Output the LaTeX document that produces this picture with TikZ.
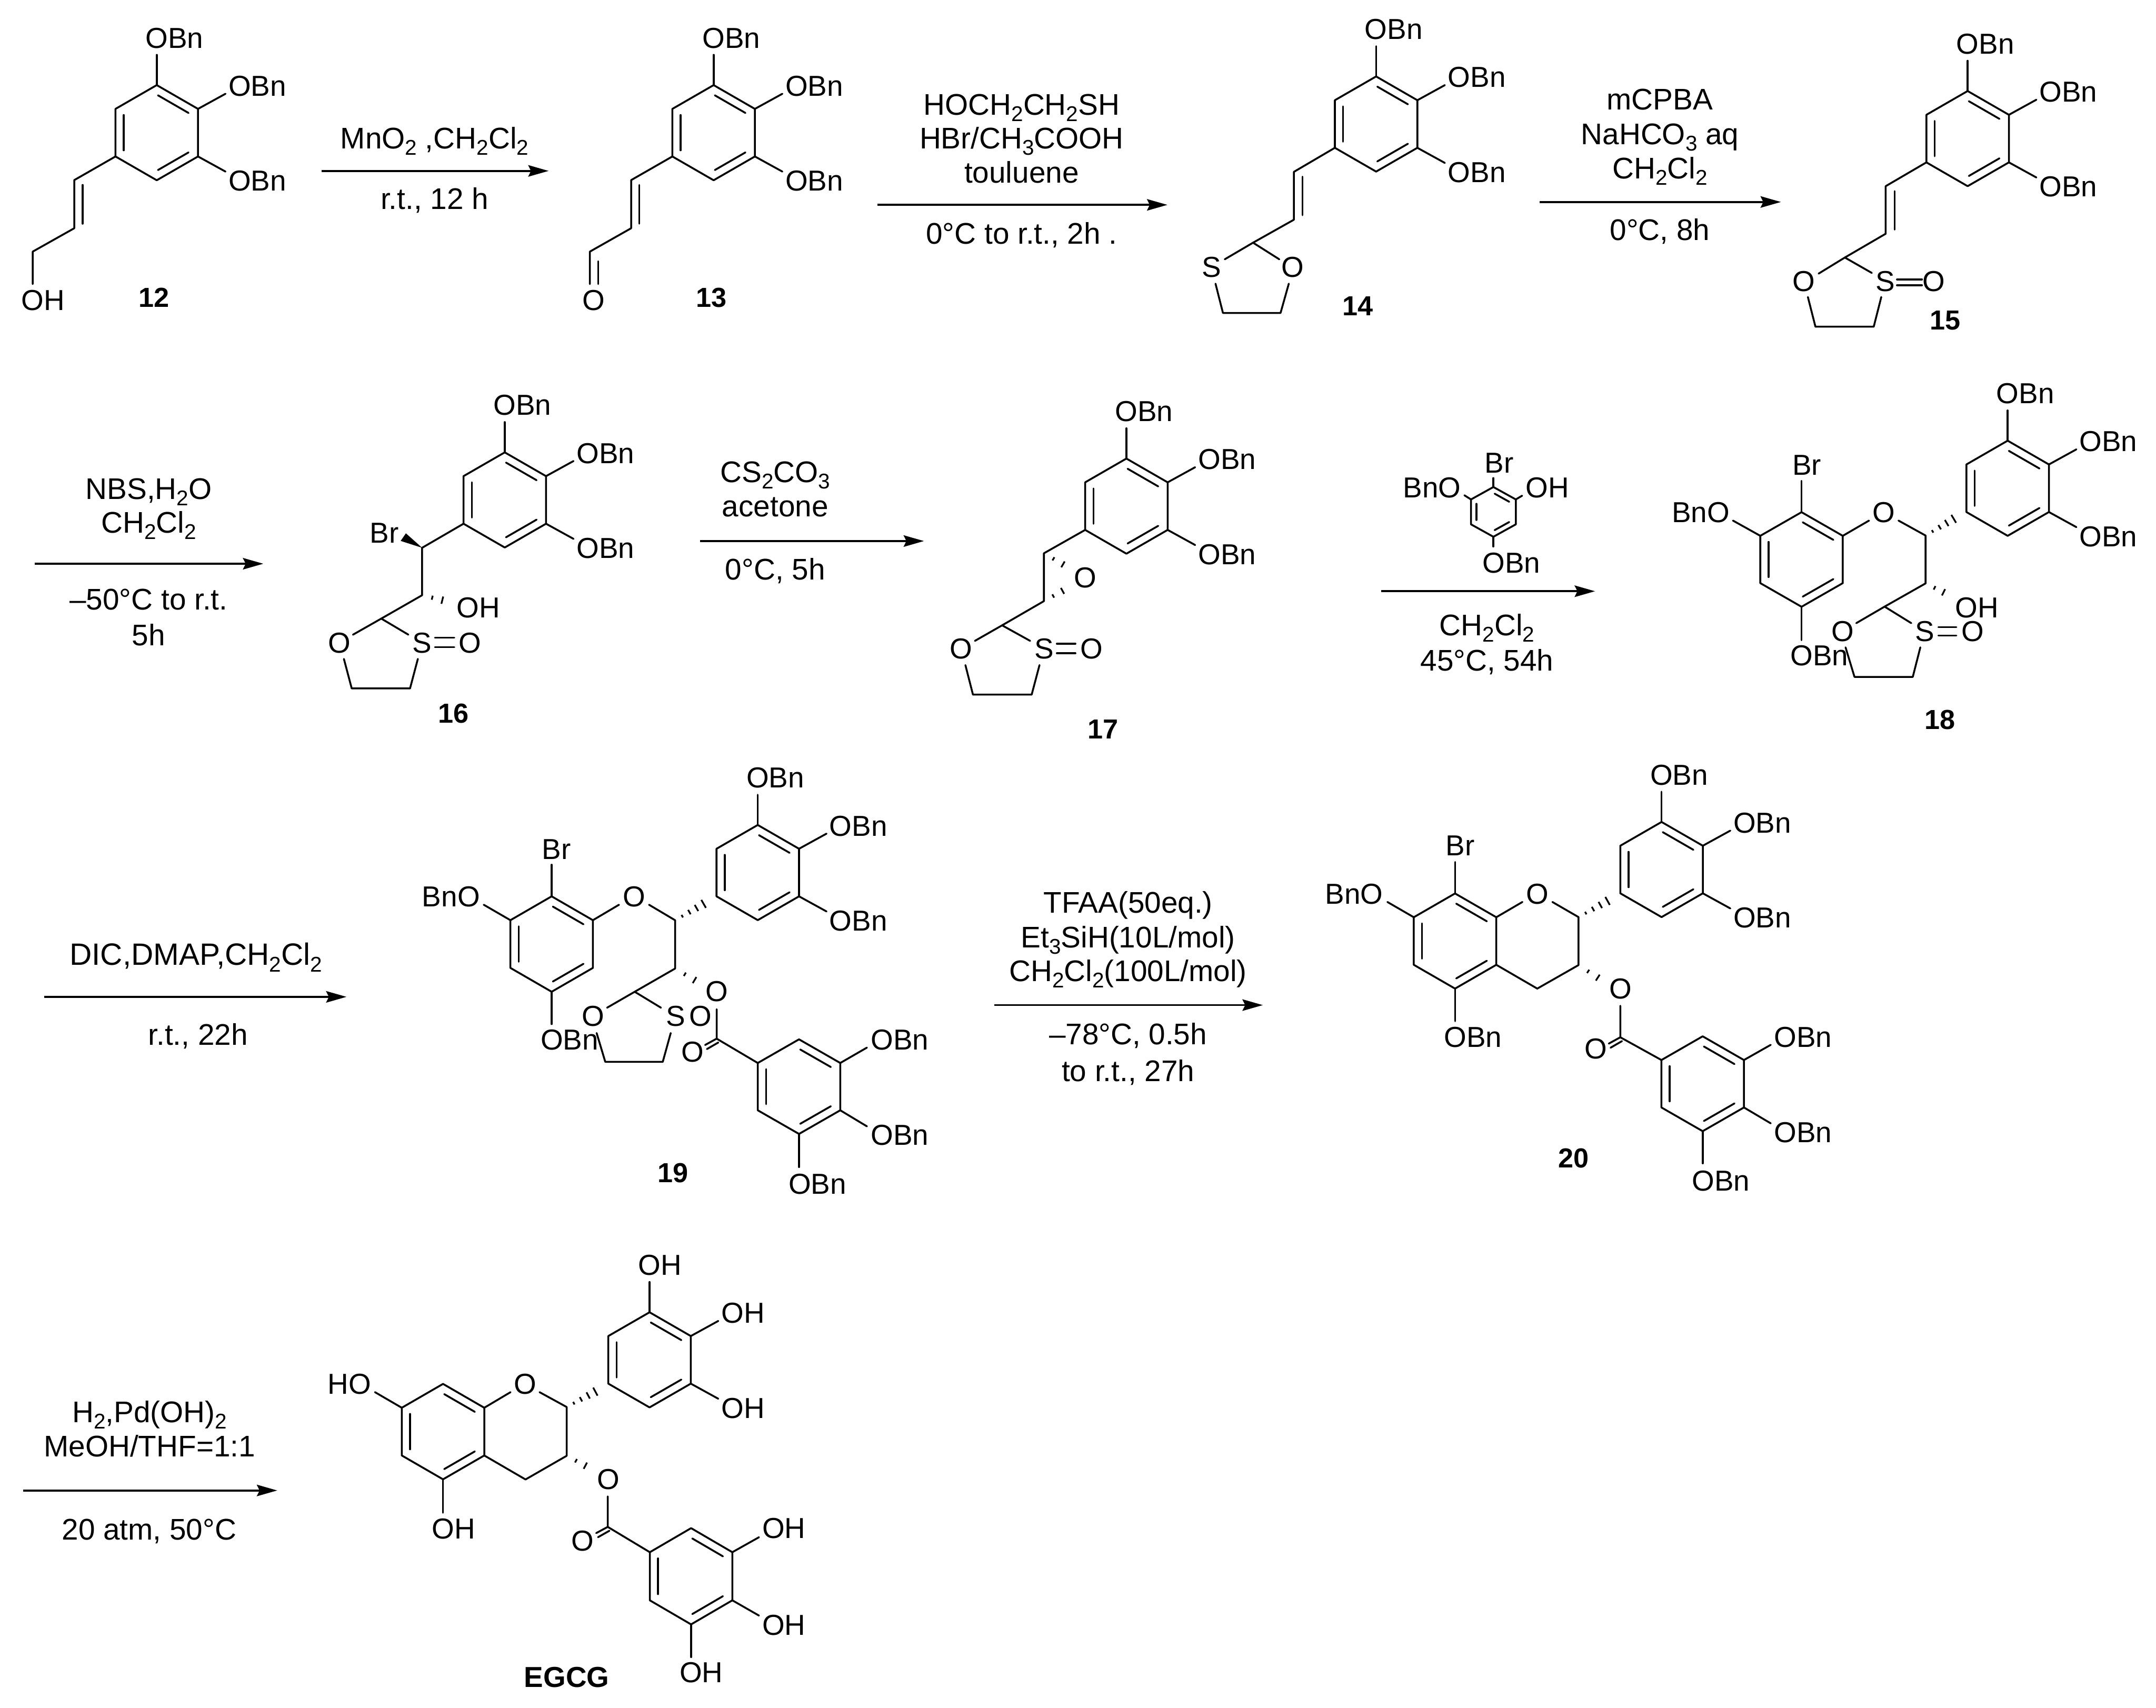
\documentclass[tikz,border=0pt]{standalone}
\usepackage{fontspec}
\setmainfont{Liberation Sans}
\usetikzlibrary{calc,arrows.meta}
\newcommand{\chsub}[1]{\raisebox{-0.21em}{\fontsize{15.5}{18}\selectfont #1}}
\newcommand{\pt}[3]{\coordinate (#1) at (#2,#3);}
% ring: [inner scale] name cx cy halfwidth radius
\newcommand{\hexring}[6][0.8]{%
  \coordinate (#2C) at (#3,#4);
  \coordinate (#2T) at (#3,#4-#6);
  \coordinate (#2UR) at (#3+#5,#4-#6/2);
  \coordinate (#2LR) at (#3+#5,#4+#6/2);
  \coordinate (#2B) at (#3,#4+#6);
  \coordinate (#2LL) at (#3-#5,#4+#6/2);
  \coordinate (#2UL) at (#3-#5,#4-#6/2);
  \draw[bond] (#2T)--(#2UR)--(#2LR)--(#2B)--(#2LL)--(#2UL)--cycle;
  \draw[bond,shorten <=1pt,shorten >=1pt] ($(#2C)!#1!(#2T)$)--($(#2C)!#1!(#2UR)$);
  \draw[bond,shorten <=1pt,shorten >=1pt] ($(#2C)!#1!(#2UL)$)--($(#2C)!#1!(#2LL)$);
  \draw[bond,shorten <=1pt,shorten >=1pt] ($(#2C)!#1!(#2LR)$)--($(#2C)!#1!(#2B)$);
}
% label with left edge x, baseline y
\newcommand{\atomL}[4]{\node[atom,anchor=base west] (#1) at (#2,#3) {#4};}
% reagent text centred on x, baseline y
\newcommand{\txtC}[4]{\node[reagent,anchor=base] (#1) at (#2,#3) {#4};}
\newcommand{\numC}[4]{\node[atom,font=\fontsize{20}{24}\selectfont\bfseries,anchor=base] (#1) at (#2,#3) {#4};}
% bond from a named point to a new named end
\newcommand{\bnd}[4]{\coordinate (#2) at (#3,#4); \draw[bond] (#1)--(#2);}
% ring with three substituents: name cx cy text
\newcommand{\gall}[4]{%
  \hexring{#1}{#2}{#3}{30}{34.6}
  \bnd{#1T}{#1ot}{#2}{#3-34.6-22}
  \bnd{#1UR}{#1ou}{#2+30+20}{#3-17.3-11}
  \bnd{#1LR}{#1ol}{#2+30+20}{#3+17.3+11}
  \atomL{#1lt}{#2-8.2}{#3-34.6-27}{#4}
  \atomL{#1lu}{#2+30+22.2}{#3-17.3-9.4}{#4}
  \atomL{#1ll}{#2+30+22.2}{#3+17.3+25}{#4}
}
% hashed bond: from, to, stripes, max half width
\newcommand{\hashb}[4]{%
  \foreach \i in {1,...,#3}{%
    \pgfmathsetmacro{\tt}{\i/#3}
    \pgfmathsetmacro{\hh}{0.3+#4*\i/#3}
    \draw[hashline] ($(#1)!\tt!(#2)!\hh pt!90:(#2)$)--($(#1)!\tt!(#2)!\hh pt!-90:(#2)$);
  }%
}
\newcommand{\rxn}[4]{\coordinate (#1s) at (#2,#4); \coordinate (#1e) at (#3,#4); \draw[rxnarrow] (#1s)--(#1e);}
\tikzset{
  bond/.style={line width=1.35pt,line cap=round,line join=round,black},
  hashline/.style={line width=1.25pt,black},
  atom/.style={inner sep=0pt,outer sep=0pt,font=\fontsize{21}{25}\selectfont,text=black},
  reagent/.style={atom,font=\fontsize{21.7}{26}\selectfont},
  rxnarrow/.style={line width=1.4pt,black,-{Stealth[length=14.8pt,width=8.3pt,inset=2pt]}}
}
\begin{document}
\begin{tikzpicture}[x=1pt,y=-1pt]
\useasboundingbox (0,0) rectangle (1568,1242);
\fill[white] (0,0) rectangle (1568,1242);

% ---------- 12
\gall{a}{114}{96.5}{OBn}
\pt{av1}{54}{131}\pt{av2}{54}{166}\pt{av3}{23.8}{183}\pt{av4}{23.8}{206.6}
\draw[bond] (aLL)--(av1)--(av2)--(av3)--(av4);
\pt{ai1}{60}{134.5}\pt{ai2}{60}{162.7}\draw[bond] (ai1)--(ai2);
\atomL{aoh}{15.5}{225.5}{OH}
\numC{an}{112}{223.5}{12}

% ---------- 13
\gall{b}{519}{96.5}{OBn}
\pt{bv1}{459}{131}\pt{bv2}{459}{166}\pt{bv3}{429}{183}\pt{bv4}{429}{206.6}
\draw[bond] (bLL)--(bv1)--(bv2)--(bv3)--(bv4);
\pt{bi1}{465}{134.5}\pt{bi2}{465}{162.7}\draw[bond] (bi1)--(bi2);
\pt{bj1}{435}{190}\pt{bj2}{435}{206.6}\draw[bond] (bj1)--(bj2);
\atomL{bo}{423.5}{225.5}{O}
\numC{bn}{517.5}{223.5}{13}

\rxn{r1}{234}{399}{124.3}
\txtC{r1a}{316}{108}{MnO\chsub{2} ,CH\chsub{2}Cl\chsub{2}}
\txtC{r1b}{316}{152}{r.t., 12 h}

% ---------- 14
\gall{c}{1000.8}{90.2}{OBn}
\pt{cv1}{941}{125}\pt{cv2}{941}{159.8}\pt{cv3}{911.3}{176.5}
\draw[bond] (cLL)--(cv1)--(cv2)--(cv3);
\pt{ci1}{947.3}{128.5}\pt{ci2}{947.3}{156.5}\draw[bond] (ci1)--(ci2);
\bnd{cv3}{cs0}{890.7}{188.6}
\bnd{cv3}{co0}{930.4}{188.6}
\atomL{cs}{874}{201.5}{S}
\atomL{co}{932}{201.5}{O}
\pt{cr1}{884}{206.3}\pt{cr2}{889.4}{227.6}\pt{cr3}{931.3}{227.6}\pt{cr4}{937.3}{206.3}
\draw[bond] (cr1)--(cr2)--(cr3)--(cr4);
\numC{cn}{987.4}{229.4}{14}

\rxn{r2}{638}{849}{149}
\txtC{r2a}{743}{83.5}{HOCH\chsub{2}CH\chsub{2}SH}
\txtC{r2b}{743}{108}{HBr/CH\chsub{3}COOH}
\txtC{r2c}{743}{133}{touluene}
\txtC{r2d}{743}{177.5}{0°C to r.t., 2h .}

% ---------- 15
\gall{d}{1431}{100.8}{OBn}
\pt{dv1}{1371.4}{135.4}\pt{dv2}{1371.4}{170}\pt{dv3}{1341.7}{187.3}
\draw[bond] (dLL)--(dv1)--(dv2)--(dv3);
\pt{di1}{1378}{139}\pt{di2}{1378}{167}\draw[bond] (di1)--(di2);
\bnd{dv3}{do0}{1322.6}{199}
\bnd{dv3}{ds0}{1361.3}{198.5}
\atomL{do}{1303.8}{211.8}{O}
\atomL{ds}{1364}{211.8}{S}
\atomL{do2}{1398.2}{211.8}{O}
\pt{de1}{1379.6}{203.2}\pt{de2}{1397.8}{203.2}\pt{de3}{1379.6}{207.5}\pt{de4}{1397.8}{207.5}
\draw[bond] (de1)--(de2); \draw[bond] (de3)--(de4);
\pt{dr1}{1314.8}{216}\pt{dr2}{1320.3}{237.6}\pt{dr3}{1362.7}{237.6}\pt{dr4}{1368.2}{216}
\draw[bond] (dr1)--(dr2)--(dr3)--(dr4);
\numC{dn}{1414.7}{239.7}{15}

\rxn{r3}{1119.7}{1295.2}{146.9}
\txtC{r3a}{1207.2}{80}{mCPBA}
\txtC{r3b}{1207.2}{105}{NaHCO\chsub{3} aq}
\txtC{r3c}{1207.2}{130}{CH\chsub{2}Cl\chsub{2}}
\txtC{r3d}{1207.2}{174.8}{0°C, 8h}

% ---------- 16
\gall{e}{367.1}{363.6}{OBn}
\pt{ev1}{307}{398.4}\pt{ev2}{307}{432.9}\pt{ev3}{277.3}{449.9}
\draw[bond] (eLL)--(ev1)--(ev2)--(ev3);
\pt{ew1}{291.4}{393.4}\pt{ew2}{295.2}{387.9}
\fill[black] (ev1)--(ew1)--(ew2)--cycle;
\atomL{ebr}{269}{394.8}{Br}
\pt{eh}{329}{438.3}
\hashb{ev2}{eh}{3}{3.6}
\atomL{eoh}{332.2}{449.4}{OH}
\bnd{ev3}{eo0}{256.7}{461.6}
\bnd{ev3}{es0}{297}{461.6}
\atomL{eo}{238.8}{474.9}{O}
\atomL{es}{300}{474.9}{S}
\atomL{eo2}{333.5}{474.9}{O}
\pt{ee1}{316.3}{463.7}\pt{ee2}{330.4}{463.7}\pt{ee3}{316.3}{470.6}\pt{ee4}{330.4}{470.6}
\draw[bond] (ee1)--(ee2); \draw[bond] (ee3)--(ee4);
\pt{er1}{250.1}{479.2}\pt{er2}{255.8}{500.7}\pt{er3}{298.2}{500.7}\pt{er4}{303.9}{479.2}
\draw[bond] (er1)--(er2)--(er3)--(er4);
\numC{en}{329.9}{525.7}{16}

\rxn{r4}{25.2}{191.5}{410}
\txtC{r4a}{108.1}{363}{NBS,H\chsub{2}O}
\txtC{r4b}{108.1}{387.6}{CH\chsub{2}Cl\chsub{2}}
\txtC{r4c}{108.1}{443.4}{–50°C to r.t.}
\txtC{r4d}{108.1}{469.7}{5h}

% ---------- 17
\gall{f}{819.2}{368.1}{OBn}
\pt{fv1}{759.2}{402.4}\pt{fv2}{759.2}{437.2}\pt{fv3}{728.8}{454.8}
\draw[bond] (fLL)--(fv1)--(fv2)--(fv3);
\atomL{feo}{781}{427.4}{O}
\pt{fh1}{780}{414.5}\pt{fh2}{779.5}{426}
\hashb{fv1}{fh1}{3}{3.2}
\hashb{fv2}{fh2}{3}{3.2}
\bnd{fv3}{fo0}{709}{466.1}
\bnd{fv3}{fs0}{749.2}{466.1}
\atomL{fo}{690.8}{479.1}{O}
\atomL{fs}{752.4}{479.1}{S}
\atomL{fo2}{785.7}{479.1}{O}
\pt{fe1}{768.6}{468.2}\pt{fe2}{782.1}{468.2}\pt{fe3}{768.6}{475.1}\pt{fe4}{782.1}{475.1}
\draw[bond] (fe1)--(fe2); \draw[bond] (fe3)--(fe4);
\pt{fr1}{702.1}{483.7}\pt{fr2}{707.6}{505.2}\pt{fr3}{750.3}{505.2}\pt{fr4}{756}{483.7}
\draw[bond] (fr1)--(fr2)--(fr3)--(fr4);
\numC{fn}{802.3}{537.1}{17}

\rxn{r5}{509}{672}{393.5}
\txtC{r5a}{563.8}{351}{CS\chsub{2}CO\chsub{3}}
\txtC{r5b}{563.8}{375.8}{acetone}
\txtC{r5c}{563.8}{421.8}{0°C, 5h}

% ---------- reagent above arrow 6
\hexring[0.76]{g}{1086.1}{372.3}{16.3}{18.1}
\bnd{gT}{gbr0}{1086.1}{347.7}
\bnd{gUL}{gbn0}{1065}{360.2}
\bnd{gUR}{goh0}{1107}{360.5}
\bnd{gB}{gob0}{1086.1}{397.5}
\atomL{gbr}{1079.8}{343.8}{Br}
\atomL{gbn}{1020.5}{361.9}{BnO}
\atomL{goh}{1109.6}{361.9}{OH}
\atomL{gob}{1078.2}{416.7}{OBn}
\rxn{r6}{1004.3}{1160}{430}
\txtC{r6a}{1081.4}{462.4}{CH\chsub{2}Cl\chsub{2}}
\txtC{r6b}{1081.4}{487.8}{45°C, 54h}

% ---------- 18
\gall{h}{1460.1}{355.1}{OBn}
\hexring{i}{1310.2}{406.9}{30}{34.4}
\bnd{iT}{ibr0}{1310.2}{349.7}
\atomL{ibr}{1303.5}{345.4}{Br}
\bnd{iUL}{ibn0}{1260.3}{378.6}
\atomL{ibn}{1215.8}{379.8}{BnO}
\bnd{iUR}{io0}{1359.3}{378.6}
\atomL{io}{1361.8}{379.8}{O}
\pt{ic1}{1380.7}{378.6}\pt{ic2}{1400.4}{389.5}\pt{ic3}{1400.4}{424.3}\pt{ic4}{1370.6}{441.2}
\draw[bond] (ic1)--(ic2)--(ic3)--(ic4);
\pt{ih1}{1426}{374.3}\pt{ih2}{1420}{434}
\hashb{ic2}{ih1}{5}{3.8}
\hashb{ic3}{ih2}{3}{3.4}
\atomL{ioh}{1422}{449.2}{OH}
\bnd{ic4}{iso0}{1350}{453.2}
\bnd{ic4}{iss0}{1390}{453.2}
\atomL{iso}{1331.8}{466.5}{O}
\atomL{iss}{1392.8}{466.5}{S}
\atomL{iso2}{1426.4}{466.5}{O}
\pt{ie1}{1409.7}{456.1}\pt{ie2}{1422.8}{456.1}\pt{ie3}{1409.7}{462.2}\pt{ie4}{1422.8}{462.2}
\draw[bond] (ie1)--(ie2); \draw[bond] (ie3)--(ie4);
\pt{ir1}{1342.2}{470.8}\pt{ir2}{1348.7}{492.3}\pt{ir3}{1391.1}{492.3}\pt{ir4}{1396.6}{470.8}
\draw[bond] (ir1)--(ir2)--(ir3)--(ir4);
\bnd{iB}{iob0}{1310.2}{465.6}
\atomL{iob}{1302.2}{484}{OBn}
\numC{in}{1411}{530.2}{18}

% ---------- 19
\gall{j}{551.1}{634.6}{OBn}
\hexring{k}{401.2}{686.6}{30}{34.7}
\bnd{kT}{kbr0}{401.2}{628.9}
\atomL{kbr}{394.2}{624.8}{Br}
\bnd{kUL}{kbn0}{351.8}{658}
\atomL{kbn}{307}{659.5}{BnO}
\bnd{kUR}{ko0}{450.2}{658}
\atomL{ko}{453}{659.5}{O}
\pt{kc1}{472}{658}\pt{kc2}{491}{669.3}\pt{kc3}{491}{704.4}\pt{kc4}{461.6}{721.3}
\draw[bond] (kc1)--(kc2)--(kc3)--(kc4);
\pt{kh1}{516.9}{654.4}\pt{kh2}{512.2}{717}
\hashb{kc2}{kh1}{5}{3.8}
\hashb{kc3}{kh2}{3}{3.4}
\bnd{kc4}{kso0}{441.5}{732.9}
\bnd{kc4}{kss0}{480.7}{732.9}
\atomL{kso}{423.1}{746.2}{O}
\atomL{kss}{484.3}{746.2}{S}
\atomL{kso2}{501.4}{746.2}{O}
\pt{kr1}{433.9}{751.3}\pt{kr2}{440.2}{772.3}\pt{kr3}{482}{772.3}\pt{kr4}{487.8}{751.3}
\draw[bond] (kr1)--(kr2)--(kr3)--(kr4);
\bnd{kB}{kob0}{401.2}{744.8}
\atomL{kob}{393.2}{763.5}{OBn}
\atomL{keo}{513.1}{728.4}{O}
\hexring{m}{581.1}{790.3}{30}{34.4}
\pt{ke1}{521.2}{734}\pt{ke2}{521.2}{755.4}
\draw[bond] (ke1)--(ke2)--(mUL);
\pt{ke3}{512.8}{760}\pt{ke4}{522.4}{758.2}\pt{ke5}{514.1}{763}
\draw[bond] (ke2)--(ke3); \draw[bond] (ke4)--(ke5);
\atomL{kco}{495.4}{772.3}{O}
\bnd{mUR}{mo1}{630.5}{761.9}
\bnd{mLR}{mo2}{630.5}{819.2}
\bnd{mB}{mo3}{581.1}{848.8}
\atomL{ml1}{633.3}{763.5}{OBn}
\atomL{ml2}{633.3}{832.9}{OBn}
\atomL{ml3}{573.5}{868.5}{OBn}
\numC{kn}{489.6}{860}{19}

\rxn{r7}{32}{252}{725}
\node[reagent,font=\fontsize{22.4}{26}\selectfont,anchor=base] (r7a) at (142.5,702) {DIC,DMAP,CH\chsub{2}Cl\chsub{2}};
\txtC{r7b}{144}{760}{r.t., 22h}

% ---------- 20
\gall{n}{1208.4}{632.4}{OBn}
\hexring{p}{1058.2}{684.4}{30}{34.6}
\bnd{pT}{pbr0}{1058.2}{626.9}
\atomL{pbr}{1051.5}{622.4}{Br}
\bnd{pUL}{pbn0}{1009}{656}
\atomL{pbn}{963.8}{657.5}{BnO}
\bnd{pUR}{po0}{1107.2}{656}
\atomL{po}{1110}{657.5}{O}
\pt{pc1}{1129}{656}\pt{pc2}{1148}{667}\pt{pc3}{1148}{701.9}\pt{pc4}{1118}{719}
\draw[bond] (pc1)--(pc2)--(pc3)--(pc4)--(pLR);
\pt{ph1}{1174.4}{652.3}\pt{ph2}{1169}{715.6}
\hashb{pc2}{ph1}{5}{3.8}
\hashb{pc3}{ph2}{3}{3.4}
\bnd{pB}{pob0}{1058.2}{742.7}
\atomL{pob}{1050.2}{761.5}{OBn}
\atomL{peo}{1170.3}{726.4}{O}
\hexring{q}{1238.3}{788.2}{30}{34.5}
\pt{pe1}{1178.4}{731.5}\pt{pe2}{1178.4}{754.4}
\draw[bond] (pe1)--(pe2)--(qUL);
\pt{pe3}{1170}{759}\pt{pe4}{1179.6}{757.2}\pt{pe5}{1171.3}{762}
\draw[bond] (pe2)--(pe3); \draw[bond] (pe4)--(pe5);
\atomL{pco}{1152.6}{770}{O}
\bnd{qUR}{qo1}{1287.8}{759.9}
\bnd{qLR}{qo2}{1287.8}{817}
\bnd{qB}{qo3}{1238.3}{846.1}
\atomL{ql1}{1290.3}{761.5}{OBn}
\atomL{ql2}{1290.3}{830.8}{OBn}
\atomL{ql3}{1230.5}{866}{OBn}
\numC{pn}{1144.4}{849.2}{20}

\rxn{r8}{723.3}{918.4}{731}
\txtC{r8a}{820.4}{663.8}{TFAA(50eq.)}
\txtC{r8b}{820.4}{689.1}{Et\chsub{3}SiH(10L/mol)}
\txtC{r8c}{820.4}{713.9}{CH\chsub{2}Cl\chsub{2}(100L/mol)}
\txtC{r8d}{820.4}{759.8}{–78°C, 0.5h}
\txtC{r8e}{820.4}{786.3}{to r.t., 27h}

% ---------- EGCG
\gall{s}{472.4}{989}{OH}
\hexring{t}{322.2}{1041.2}{30}{34.7}
\bnd{tUL}{tho0}{272.7}{1012.5}
\atomL{tho}{238.3}{1014}{HO}
\bnd{tUR}{to0}{371.3}{1012.5}
\atomL{to}{373.8}{1014}{O}
\pt{tc1}{392.4}{1012.5}\pt{tc2}{412.1}{1023.3}\pt{tc3}{412.1}{1058.8}\pt{tc4}{382.2}{1076}
\draw[bond] (tc1)--(tc2)--(tc3)--(tc4)--(tLR);
\pt{th1}{438.2}{1009.3}\pt{th2}{432.5}{1069.6}
\hashb{tc2}{th1}{5}{3.8}
\hashb{tc3}{th2}{3}{3.4}
\bnd{tB}{tob0}{322.2}{1100.2}
\atomL{tob}{314.2}{1119.1}{OH}
\atomL{teo}{434.3}{1083.1}{O}
\hexring{u}{502.6}{1146.4}{30}{35}
\pt{te1}{442}{1088.3}\pt{te2}{442}{1110.5}
\draw[bond] (te1)--(te2)--(uUL);
\pt{te3}{433.6}{1115}\pt{te4}{443.2}{1113.3}\pt{te5}{434.9}{1118}
\draw[bond] (te2)--(te3); \draw[bond] (te4)--(te5);
\atomL{tco}{415.7}{1128.1}{O}
\bnd{uUR}{uo1}{552}{1118}
\bnd{uLR}{uo2}{552}{1175}
\bnd{uB}{uo3}{502.6}{1205.2}
\atomL{ul1}{554.4}{1118.7}{OH}
\atomL{ul2}{554.4}{1189}{OH}
\atomL{ul3}{494.3}{1223.5}{OH}
\node[atom,font=\fontsize{21}{25}\selectfont\bfseries,anchor=base] (tn) at (412.1,1227.2) {EGCG};

\rxn{r9}{16.7}{201.6}{1084}
\txtC{r9a}{108.8}{1034.7}{H\chsub{2},Pd(OH)\chsub{2}}
\txtC{r9b}{108.8}{1059.5}{MeOH/THF=1:1}
\txtC{r9c}{108.5}{1120}{20 atm, 50°C}
\end{tikzpicture}
\end{document}
